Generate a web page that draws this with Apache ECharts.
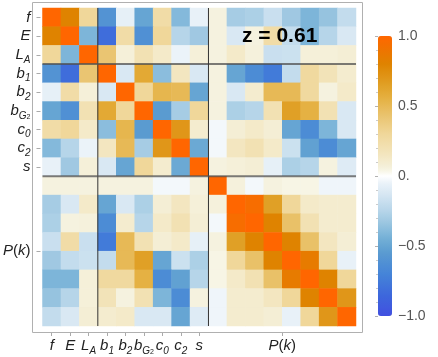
<!DOCTYPE html>
<html>
<head>
<meta charset="utf-8">
<script src="https://cdn.jsdelivr.net/npm/echarts@6.0.0/dist/echarts.min.js"></script>
<style>
html, body { margin: 0; padding: 0; background: #fff; }
#chart { width: 438px; height: 357px; }
</style>
</head>
<body>
<div id="chart"></div>
<script>
// parameter labels (rich text), then the P(k) block
const paramLabels = ['{i|f}', '{i|E}', '{i|L}{s|A}', '{i|b}{s|1}', '{i|b}{s|2}', '{i|b}{s|G}{ss|2}', '{i|c}{s|0}', '{i|c}{s|2}', '{i|s}'];
const pkLabel = '{i|P}{n|(}{i|k}{n|)}';
const nBins = 8;
const groupBreaks = [3, 9];
const zText = 'z = 0.61';

// correlation matrix, rows top to bottom: f, E, L_A, b1, b2, bG2, c0, c2, s, P(k) bins
const corrRows = [
  [1, 0.8, 0.3, -0.6, -0.07, -0.5, 0.25, -0.4, -0.06,   0.05, -0.3, -0.28, -0.18, -0.32, -0.42, -0.35, -0.2],
  [0.8, 1, -0.42, -0.82, 0.25, -0.62, 0.3, -0.25, -0.32,   0.05, -0.12, 0.05, 0.25, -0.2, -0.42, -0.25, -0.12],
  [0.3, -0.42, 1, 0.42, 0.07, 0.2, 0.12, -0.05, 0.07,   0.05, 0.12, 0.06, -0.18, -0.17, 0.07, 0.07, 0.08],
  [-0.6, -0.82, 0.42, 1, -0.12, 0.6, -0.38, 0.15, -0.12,   0.05, -0.5, -0.65, -0.75, -0.2, 0.28, 0.18, 0.1],
  [-0.07, 0.25, 0.07, -0.12, 1, 0.3, 0.52, 0.5, -0.5,   0.05, -0.12, 0.1, 0.5, 0.5, 0.28, 0.05, 0.12],
  [-0.5, -0.62, 0.2, 0.6, 0.3, 1, -0.55, -0.3, 0.3,   0.05, -0.28, -0.25, 0.2, 0.65, 0.55, 0.2, -0.12],
  [0.25, 0.3, 0.12, -0.38, 0.52, -0.55, 1, 0.7, 0.1,   -0.03, 0.08, 0.12, 0.08, -0.5, -0.65, -0.42, -0.12],
  [-0.4, -0.25, -0.05, 0.15, 0.5, -0.3, 0.7, 1, -0.48,   -0.03, 0.15, 0.2, 0.12, -0.17, -0.52, -0.65, -0.5],
  [-0.06, -0.32, 0.07, -0.12, -0.5, 0.3, 0.1, -0.48, 1,   0.05, 0.07, 0.08, -0.07, -0.28, -0.25, 0.05, -0.1],
  [0.05, 0.05, 0.05, 0.05, 0.05, 0.05, -0.03, -0.03, 0.05,   1, 0.06, -0.03, 0.05, 0.04, 0.04, -0.04, -0.04],
  [-0.3, -0.12, 0.12, -0.5, -0.12, -0.28, 0.08, 0.15, 0.07,   0.06, 1, 0.95, 0.65, 0.3, 0.12, 0.1, 0.1],
  [-0.28, 0.05, 0.06, -0.65, 0.1, -0.25, 0.12, 0.2, 0.08,   -0.03, 0.95, 1, 0.8, 0.45, 0.2, 0.1, 0.1],
  [-0.18, 0.25, -0.18, -0.75, 0.5, 0.2, 0.08, 0.12, -0.07,   0.05, 0.65, 0.8, 1, 0.8, 0.45, 0.15, 0.08],
  [-0.32, -0.2, -0.17, -0.2, 0.5, 0.65, -0.5, -0.17, -0.28,   0.04, 0.3, 0.45, 0.8, 1, 0.85, 0.3, -0.06],
  [-0.42, -0.42, 0.07, 0.28, 0.28, 0.55, -0.65, -0.52, -0.25,   0.04, 0.12, 0.2, 0.45, 0.85, 1, 0.8, 0.3],
  [-0.35, -0.25, 0.07, 0.18, 0.05, 0.2, -0.42, -0.65, 0.05,   -0.04, 0.1, 0.1, 0.15, 0.3, 0.8, 1, 0.7],
  [-0.2, -0.12, 0.08, 0.1, 0.12, -0.12, -0.12, -0.5, -0.1,   -0.04, 0.1, 0.1, 0.08, -0.06, 0.3, 0.7, 1]
];

// colour bar labels
const barTicks = [-1, -0.5, 0, 0.5, 1];
const barLabels = ['\u22121.0', '\u22120.5', '0.', '0.5', '1.0'];

// colour scale anchors (value, colour)
const scaleAnchors = [
  [-1.00, '#4150e0'], [-0.85, '#3d68dc'], [-0.70, '#4584d8'], [-0.55, '#5a9bd0'],
  [-0.45, '#72afd6'], [-0.35, '#96c3df'], [-0.25, '#b6d5e9'], [-0.12, '#d9e8f3'],
  [-0.04, '#eef5fa'], [0.00, '#ffffff'], [0.05, '#f5f2df'], [0.15, '#f3e6c0'],
  [0.30, '#f0d79a'], [0.45, '#e9c168'], [0.55, '#e5b143'], [0.65, '#e0a026'],
  [0.80, '#df8300'], [0.90, '#ee7400'], [1.00, '#ff6600']
];

function hex(c) { return [1, 3, 5].map(k => parseInt(c.substr(k, 2), 16)); }
function colorAt(v) {
  for (let k = 1; k < scaleAnchors.length; k++) {
    const [v1, c1] = scaleAnchors[k];
    const [v0, c0] = scaleAnchors[k - 1];
    if (v <= v1 + 1e-9) {
      const t = (v - v0) / (v1 - v0);
      const a = hex(c0), b = hex(c1);
      return 'rgb(' + a.map((x, j) => Math.round(x + (b[j] - x) * t)).join(',') + ')';
    }
  }
  return scaleAnchors[scaleAnchors.length - 1][1];
}
const scaleColors = [];
for (let k = 0; k <= 40; k++) scaleColors.push(colorAt(-1 + k * 0.05));

const n = corrRows.length;
const cats = corrRows.map((r, i) => i);
const cells = [];
corrRows.forEach((row, r) => row.forEach((v, c) => cells.push([c, r, v])));

const nParams = paramLabels.length;
const tickVals = paramLabels.map((l, i) => i + 0.5).concat([nParams + nBins / 2]);
function tickLabel(v) {
  if (v > nParams) return pkLabel;
  return paramLabels[Math.floor(v)];
}

const font = '"Liberation Sans", Arial, sans-serif';
const rich = {
  i: { fontFamily: font, fontStyle: 'italic', fontSize: 15, color: '#222', lineHeight: 20 },
  n: { fontFamily: font, fontSize: 15, color: '#222', lineHeight: 20 },
  s: { fontFamily: font, fontStyle: 'italic', fontSize: 10, color: '#222', verticalAlign: 'bottom' },
  ss: { fontFamily: font, fontSize: 7, color: '#222', verticalAlign: 'bottom' }
};

const sepLines = [];
groupBreaks.forEach(b => {
  sepLines.push({ type: 'line', xAxisIndex: 1, yAxisIndex: 1, data: [[b, 0], [b, n]], symbol: 'none', silent: true, z: 5,
    lineStyle: { color: '#333', width: 1 } });
  sepLines.push({ type: 'line', xAxisIndex: 1, yAxisIndex: 1, data: [[0, b], [n, b]], symbol: 'none', silent: true, z: 5,
    lineStyle: { color: 'rgba(80,80,80,0.75)', width: 2 } });
});

const chart = echarts.init(document.getElementById('chart'), null, { renderer: 'canvas' });
chart.setOption({
  animation: false,
  grid: [
    { left: 38, top: 8, width: 318, height: 318 },
    { left: 378, top: 36, width: 14, height: 280 }
  ],
  xAxis: [
    { type: 'category', gridIndex: 0, data: cats, show: false },
    { type: 'value', gridIndex: 0, min: 0, max: n, position: 'bottom', offset: 6,
      axisLine: { show: false }, splitLine: { show: false },
      axisTick: { show: true, customValues: tickVals, length: 4, lineStyle: { color: '#aaa' } },
      axisLabel: { customValues: tickVals, formatter: tickLabel, rich: rich, margin: 4 } },
    { type: 'value', gridIndex: 1, show: false, min: 0, max: 1 }
  ],
  yAxis: [
    { type: 'category', gridIndex: 0, data: cats, inverse: true, show: false },
    { type: 'value', gridIndex: 0, min: 0, max: n, inverse: true, position: 'left', offset: 6,
      axisLine: { show: false }, splitLine: { show: false },
      axisTick: { show: true, customValues: tickVals, inside: true, length: 4, lineStyle: { color: '#aaa' } },
      axisLabel: { customValues: tickVals, formatter: tickLabel, rich: rich, margin: 6 } },
    { type: 'value', gridIndex: 1, min: -1, max: 1, interval: 0.5, position: 'right',
      axisLine: { show: false }, splitLine: { show: false },
      axisTick: { show: true, inside: true, length: 3, lineStyle: { color: 'rgba(0,0,0,0.3)' } },
      minorTick: { show: true, splitNumber: 5, length: 2, lineStyle: { color: 'rgba(0,0,0,0.2)' } },
      axisLabel: { margin: 6, color: '#555', fontFamily: font, fontSize: 14,
        formatter: v => barLabels[barTicks.indexOf(v)] } }
  ],
  visualMap: {
    type: 'continuous', min: -1, max: 1, seriesIndex: 0, calculable: false,
    orient: 'vertical', left: 378, top: 36, itemWidth: 14, itemHeight: 280, padding: 0,
    inRange: { color: scaleColors }
  },
  graphic: [
    { type: 'rect', silent: true, z: 10, shape: { x: 32.5, y: 2.5, width: 330, height: 330 },
      style: { fill: 'none', stroke: '#b0b0b0', lineWidth: 1 } },
    { type: 'text', silent: true, z: 10, left: 242, top: 26,
      style: { text: zText, font: 'bold 21px ' + font, fill: '#000' } }
  ],
  series: [
    { type: 'heatmap', xAxisIndex: 0, yAxisIndex: 0, data: cells, silent: true,
      itemStyle: { borderWidth: 0 }, emphasis: { disabled: true } }
  ].concat(sepLines)
});
</script>
</body>
</html>
